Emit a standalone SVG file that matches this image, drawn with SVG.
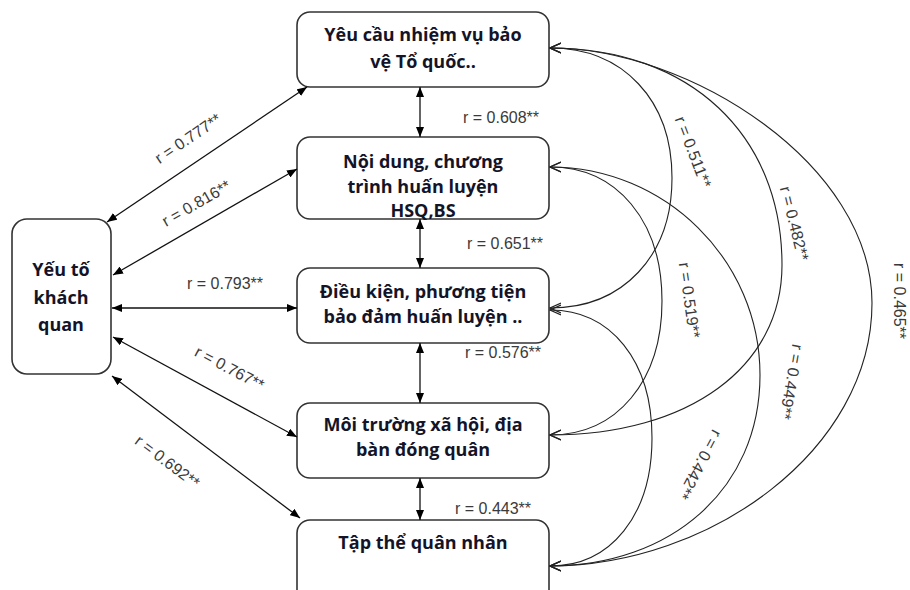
<svg xmlns="http://www.w3.org/2000/svg" width="910" height="590" viewBox="0 0 910 590">
<defs>
<marker id="fa" viewBox="0 0 10 8" refX="10" refY="4" markerWidth="10" markerHeight="8" markerUnits="userSpaceOnUse" orient="auto-start-reverse"><path d="M0,0 L10,4 L0,8 z" fill="#000"/></marker>
<marker id="oa" viewBox="0 0 12 12" refX="11" refY="6" markerWidth="12" markerHeight="12" markerUnits="userSpaceOnUse" orient="auto-start-reverse"><path d="M0,1 L11,6 L0,11" fill="none" stroke="#222" stroke-width="1.2"/></marker>
</defs>
<style>
.box{fill:#fff;stroke:#333;stroke-width:1.6}
.bt{font-family:"Open Sans","Noto Sans",sans-serif;font-weight:bold;font-size:18px;fill:#141428;text-anchor:middle}
.ln{fill:none;stroke:#111;stroke-width:1.3;marker-start:url(#fa);marker-end:url(#fa)}
.arc{fill:none;stroke:#222;stroke-width:1.1;marker-start:url(#oa);marker-end:url(#oa)}
.lb{font-family:"Liberation Sans",Arial,sans-serif;font-size:16px;fill:#3a3a3a}
.lc{text-anchor:middle}
</style>
<g id="n0"><rect class="box" x="12" y="219" width="99" height="155" rx="15"/>
<text class="bt" x="61" y="276">Yếu tố</text><text class="bt" x="61" y="304">khách</text><text class="bt" x="61" y="331">quan</text></g>
<g id="n1"><rect class="box" x="297" y="12" width="252" height="75" rx="13"/>
<text class="bt" x="423" y="41">Yêu cầu nhiệm vụ bảo</text><text class="bt" x="423" y="68">vệ Tổ quốc..</text></g>
<g id="n2"><rect class="box" x="297" y="137" width="252" height="82" rx="13"/>
<text class="bt" x="423" y="168">Nội dung, chương</text><text class="bt" x="423" y="193">trình huấn luyện</text><text class="bt" x="423" y="217">HSQ,BS</text></g>
<g id="n3"><rect class="box" x="297" y="268" width="252" height="75" rx="13"/>
<text class="bt" x="423" y="298">Điều kiện, phương tiện</text><text class="bt" x="423" y="323">bảo đảm huấn luyện ..</text></g>
<g id="n4"><rect class="box" x="297" y="403" width="252" height="75" rx="13"/>
<text class="bt" x="423" y="431">Môi trường xã hội, địa</text><text class="bt" x="423" y="456">bàn đóng quân</text></g>
<g id="n5"><rect class="box" x="297" y="520" width="252" height="90" rx="13"/>
<text class="bt" x="423" y="549">Tập thể quân nhân</text></g>
<g id="connectors">
<line class="ln" x1="107" y1="222" x2="307" y2="87"/>
<line class="ln" x1="113" y1="275" x2="297" y2="169"/>
<line class="ln" x1="112" y1="308" x2="297" y2="308"/>
<line class="ln" x1="113" y1="337" x2="297" y2="437"/>
<line class="ln" x1="112" y1="376" x2="300" y2="518"/>
<line class="ln" x1="420" y1="87" x2="420" y2="137"/>
<line class="ln" x1="420" y1="219" x2="420" y2="268"/>
<line class="ln" x1="420" y1="343" x2="420" y2="403"/>
<line class="ln" x1="420" y1="478" x2="420" y2="520"/>
<path class="arc" d="M550,48 C623,48 672,100 672,178 C672,256 623,308 550,308"/>
<path class="arc" d="M550,48 C690,48 782,135 782,265 C782,367 689,435 550,435"/>
<path class="arc" d="M550,48 C690,48 872,165 872,303 C872,450 710,566 550,566"/>
<path class="arc" d="M550,167 C617,167 662,221 662,301 C662,381 617,435 550,435"/>
<path class="arc" d="M550,167 C665,167 760,260 760,375 C760,490 670,566 550,566"/>
<path class="arc" d="M550,310 C611,310 652,361 652,438 C652,515 611,566 550,566"/>
</g>
<g id="labels">
<text class="lb lc" transform="translate(191,143) rotate(-34)">r = 0.777**</text>
<text class="lb lc" transform="translate(199,208) rotate(-30)">r = 0.816**</text>
<text class="lb lc" x="225" y="289">r = 0.793**</text>
<text class="lb lc" transform="translate(227,373) rotate(28)">r = 0.767**</text>
<text class="lb lc" transform="translate(164,466) rotate(37)">r = 0.692**</text>
<text class="lb" x="463" y="123">r = 0.608**</text>
<text class="lb" x="467" y="249">r = 0.651**</text>
<text class="lb" x="465" y="358">r = 0.576**</text>
<text class="lb" x="455" y="514">r = 0.443**</text>
<text class="lb lc" transform="translate(688,154) rotate(69)">r = 0.511**</text>
<text class="lb lc" transform="translate(789,225) rotate(76)">r = 0.482**</text>
<text class="lb lc" transform="translate(894,301) rotate(90)">r = 0.465**</text>
<text class="lb lc" transform="translate(684,301) rotate(82)">r = 0.519**</text>
<text class="lb lc" transform="translate(786,381) rotate(100)">r = 0.449**</text>
<text class="lb lc" transform="translate(695,462) rotate(118)">r = 0.442**</text>
</g>
</svg>
